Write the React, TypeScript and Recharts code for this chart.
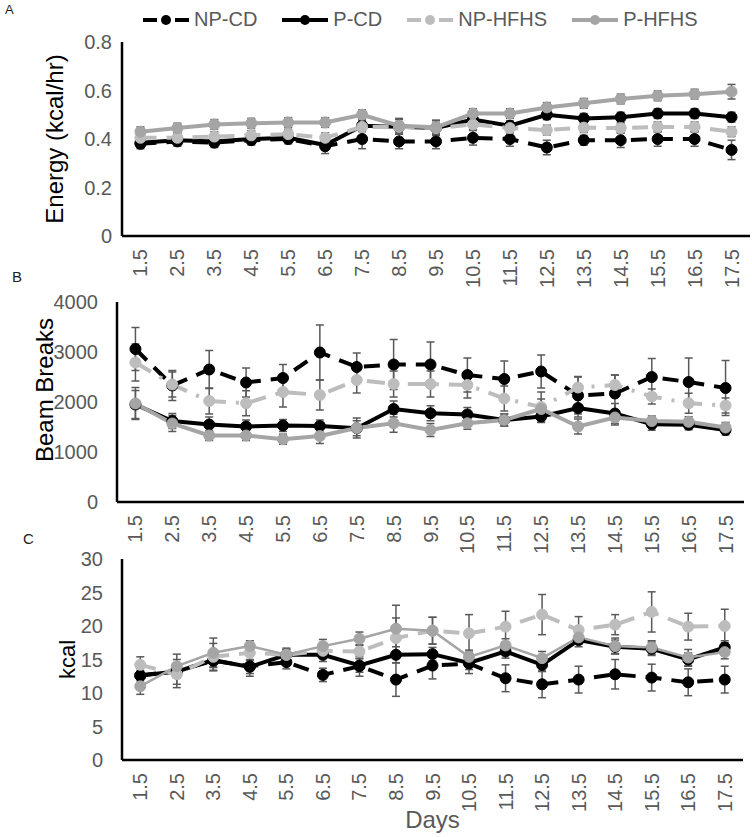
import React from 'react';
import { LineChart, Line, XAxis, YAxis, ErrorBar, Legend } from 'recharts';

const FONT = '"Liberation Sans", Arial, sans-serif';
const TICK_GRAY = '#595959';

const days = ['1.5', '2.5', '3.5', '4.5', '5.5', '6.5', '7.5', '8.5', '9.5', '10.5', '11.5', '12.5', '13.5', '14.5', '15.5', '16.5', '17.5'];

// A - energy expenditure (kcal/hr)
const energyNpCd = [0.38, 0.39, 0.385, 0.395, 0.4, 0.37, 0.4, 0.39, 0.39, 0.405, 0.4, 0.365, 0.395, 0.395, 0.4, 0.4, 0.355];
const energyPCd = [0.385, 0.395, 0.39, 0.4, 0.405, 0.375, 0.455, 0.45, 0.445, 0.48, 0.455, 0.5, 0.485, 0.49, 0.505, 0.505, 0.49];
const energyNpHfhs = [0.405, 0.405, 0.41, 0.415, 0.42, 0.405, 0.45, 0.45, 0.445, 0.46, 0.445, 0.437, 0.447, 0.445, 0.45, 0.45, 0.43];
const energyPHfhs = [0.43, 0.445, 0.46, 0.465, 0.468, 0.468, 0.5, 0.455, 0.448, 0.505, 0.505, 0.53, 0.547, 0.565, 0.578, 0.585, 0.595];
const energyNpCdErr = [0.02, 0.02, 0.02, 0.02, 0.02, 0.03, 0.04, 0.03, 0.03, 0.03, 0.03, 0.03, 0.02, 0.03, 0.03, 0.03, 0.04];
const energyPCdErr = [0.02, 0.02, 0.02, 0.02, 0.02, 0.02, 0.02, 0.03, 0.03, 0.02, 0.02, 0.02, 0.02, 0.02, 0.02, 0.02, 0.02];
const energyNpHfhsErr = [0.02, 0.02, 0.02, 0.02, 0.02, 0.02, 0.02, 0.02, 0.02, 0.02, 0.02, 0.02, 0.02, 0.02, 0.02, 0.02, 0.02];
const energyPHfhsErr = [0.02, 0.02, 0.02, 0.02, 0.02, 0.02, 0.02, 0.03, 0.03, 0.02, 0.02, 0.02, 0.02, 0.02, 0.02, 0.02, 0.03];
const energyTicks = [0, 0.2, 0.4, 0.6, 0.8];

// B - beam breaks
const beamNpCd = [3060, 2330, 2650, 2390, 2480, 2990, 2700, 2750, 2750, 2540, 2460, 2610, 2130, 2170, 2500, 2400, 2280];
const beamPCd = [1950, 1620, 1550, 1510, 1530, 1520, 1475, 1860, 1775, 1750, 1640, 1710, 1880, 1770, 1555, 1545, 1440];
const beamNpHfhs = [2790, 2350, 2020, 1975, 2200, 2140, 2440, 2360, 2360, 2340, 2070, 1900, 2290, 2340, 2110, 1975, 1930];
const beamPHfhs = [1970, 1570, 1330, 1330, 1255, 1320, 1480, 1575, 1440, 1575, 1640, 1860, 1510, 1690, 1620, 1605, 1490];
const beamNpCdErr = [430, 300, 380, 290, 270, 550, 280, 500, 450, 340, 360, 330, 370, 370, 370, 480, 550];
const beamPCdErr = [280, 150, 150, 130, 120, 120, 150, 160, 150, 140, 120, 120, 180, 200, 120, 100, 100];
const beamNpHfhsErr = [370, 250, 260, 250, 300, 300, 260, 260, 260, 260, 250, 300, 220, 200, 150, 200, 150];
const beamPHfhsErr = [320, 160, 100, 100, 100, 150, 200, 180, 130, 120, 120, 200, 150, 150, 100, 100, 100];
const beamTicks = [0, 1000, 2000, 3000, 4000];

// C - food intake (kcal)
const kcalNpCd = [12.6, 13.3, 14.8, 14.0, 14.6, 12.7, 14.0, 12.0, 14.1, 14.4, 12.2, 11.3, 12.0, 12.8, 12.3, 11.6, 12.0];
const kcalPCd = [12.6, 13.2, 14.9, 13.9, 15.7, 15.7, 14.1, 15.7, 15.8, 14.5, 16.2, 14.2, 17.9, 16.9, 16.6, 15.0, 16.8];
const kcalNpHfhs = [14.2, 12.8, 15.4, 16.0, 15.7, 16.3, 16.2, 18.2, 19.3, 18.9, 19.9, 21.7, 19.4, 20.2, 22.1, 19.9, 20.0];
const kcalPHfhs = [11.0, 14.0, 16.0, 17.0, 15.7, 17.0, 18.1, 19.6, 19.3, 15.4, 17.1, 15.2, 18.3, 17.0, 16.8, 15.3, 16.1];
const kcalNpCdErr = [1.5, 2.5, 1.5, 1.5, 1.0, 1.0, 1.5, 2.5, 2.0, 1.5, 2.0, 2.0, 2.0, 2.2, 2.0, 2.0, 2.0];
const kcalPCdErr = [0.8, 1.0, 1.0, 1.0, 0.8, 1.0, 1.0, 1.2, 1.0, 1.0, 1.0, 1.0, 1.0, 1.0, 1.0, 1.0, 1.0];
const kcalNpHfhsErr = [1.2, 1.5, 2.0, 1.0, 1.0, 1.0, 1.0, 3.0, 2.0, 2.8, 2.3, 3.0, 2.0, 1.5, 3.0, 2.0, 2.5];
const kcalPHfhsErr = [1.2, 1.0, 2.2, 0.8, 0.8, 1.0, 1.0, 3.5, 2.0, 1.0, 1.0, 1.0, 1.0, 1.2, 1.0, 1.2, 1.0];
const kcalTicks = [0, 5, 10, 15, 20, 25, 30];

const series = [
  { key: 'npcd', name: 'NP-CD', color: '#000000', dashed: true },
  { key: 'pcd', name: 'P-CD', color: '#000000', dashed: false },
  { key: 'nphfhs', name: 'NP-HFHS', color: '#bdbdbd', dashed: true },
  { key: 'phfhs', name: 'P-HFHS', color: '#a5a5a5', dashed: false },
];

function buildRows(vals: number[][], errs: number[][]) {
  return days.map((day, i) => {
    const row: any = { day };
    series.forEach((s, j) => {
      row[s.key] = vals[j][i];
      row[s.key + 'Err'] = errs[j][i];
    });
    return row;
  });
}

const rowsA = buildRows([energyNpCd, energyPCd, energyNpHfhs, energyPHfhs], [energyNpCdErr, energyPCdErr, energyNpHfhsErr, energyPHfhsErr]);
const rowsB = buildRows([beamNpCd, beamPCd, beamNpHfhs, beamPHfhs], [beamNpCdErr, beamPCdErr, beamNpHfhsErr, beamPHfhsErr]);
const rowsC = buildRows([kcalNpCd, kcalPCd, kcalNpHfhs, kcalPHfhs], [kcalNpCdErr, kcalPCdErr, kcalNpHfhsErr, kcalPHfhsErr]);

const XTick = (props: any) => {
  const { x, y, payload } = props;
  const ty = y + 11;
  return (
    <text x={x} y={ty} transform={`rotate(-90, ${x}, ${ty})`} textAnchor="end" dominantBaseline="central"
      fontSize={20} fill={TICK_GRAY} fontFamily={FONT}>
      {payload.value}
    </text>
  );
};

const yTitle = (text: string, cx: number, size: number, dy = 0) => (props: any) => {
  const vb = props.viewBox;
  const x = vb.x + cx;
  const y = vb.y + vb.height / 2 + dy;
  return (
    <text x={x} y={y} transform={`rotate(-90, ${x}, ${y})`} textAnchor="middle" dominantBaseline="central"
      fontSize={size} fill="#000" fontFamily={FONT}>
      {text}
    </text>
  );
};

const LegendBox = () => (
  <div style={{ display: 'flex', gap: 25, alignItems: 'center', fontFamily: FONT, fontSize: 20, color: TICK_GRAY }}>
    {series.map((s) => (
      <div key={s.key} style={{ display: 'flex', alignItems: 'center', gap: 5 }}>
        <svg width={46} height={14}>
          <line x1={0} y1={7} x2={46} y2={7} stroke={s.color} strokeWidth={4} strokeDasharray={s.dashed ? '14 9 0 9 14' : undefined} />
          <circle cx={23} cy={7} r={5} fill={s.color} />
        </svg>
        <span>{s.name}</span>
      </div>
    ))}
  </div>
);

function renderLines(dashB = false, thinPHfhs = false) {
  return series.map((s) => {
    let dash: string | undefined = s.dashed ? '16 10' : undefined;
    if (dashB && s.key === 'nphfhs') dash = '18 10 3 10';
    const width = thinPHfhs && s.key === 'phfhs' ? 2.5 : 4;
    return (
      <Line key={s.key} type="linear" dataKey={s.key} name={s.name} stroke={s.color} strokeWidth={width}
        strokeDasharray={dash} dot={{ r: 5.5, fill: s.color, stroke: s.color, strokeWidth: 1, strokeDasharray: '' }}
        activeDot={false} isAnimationActive={false}>
        <ErrorBar dataKey={s.key + 'Err'} direction="y" width={4} stroke={TICK_GRAY} strokeWidth={1.5} isAnimationActive={false} />
      </Line>
    );
  });
}

const axisLine = { stroke: '#000', strokeWidth: 2.5 };
const yTick = { fontSize: 20, fill: TICK_GRAY, fontFamily: FONT };
const bandPad = (w: number) => ({ left: w / 34, right: w / 34 });

export default function App() {
  return (
    <div style={{ position: 'absolute', left: 0, top: 0, width: 752, height: 837, background: '#fff', fontFamily: FONT }}>
      <div style={{ position: 'absolute', left: 5, top: 2, fontSize: 13, color: '#222' }}>A</div>
      <div style={{ position: 'absolute', left: 12, top: 268, fontSize: 15, color: '#222' }}>B</div>
      <div style={{ position: 'absolute', left: 23, top: 530, fontSize: 15, color: '#222' }}>C</div>

      <div style={{ position: 'absolute', left: 0, top: 0 }}>
        <LineChart width={752} height={300} data={rowsA} margin={{ top: 42, right: 2, bottom: 0, left: 0 }}>
          <XAxis dataKey="day" height={64} axisLine={axisLine} tickLine={false} tickSize={0} tick={<XTick />}
            interval={0} padding={bandPad(628)} />
          <YAxis width={122} domain={[0, 0.8]} ticks={energyTicks} axisLine={axisLine} tickLine={false} tickSize={0}
            tickMargin={10} tick={yTick} tickFormatter={(v: number) => (v === 0 ? '0' : v.toFixed(1))}
            label={yTitle('Energy (kcal/hr)', 54, 24)} />
          <Legend layout="horizontal" verticalAlign="middle" align="center" content={<LegendBox />}
            wrapperStyle={{ top: 8, left: 143, width: 600, height: 26 }} />
          {renderLines()}
        </LineChart>
      </div>

      <div style={{ position: 'absolute', left: 0, top: 262 }}>
        <LineChart width={752} height={298} data={rowsB} margin={{ top: 40, right: 8, bottom: 0, left: 0 }}>
          <XAxis dataKey="day" height={58} axisLine={axisLine} tickLine={false} tickSize={0} tick={<XTick />}
            interval={0} padding={bandPad(627)} />
          <YAxis width={117} domain={[0, 4000]} ticks={beamTicks} axisLine={axisLine} tickLine={false} tickSize={0}
            tickMargin={19} tick={yTick} label={yTitle('Beam Breaks', 44, 24, -12)} />
          {renderLines(true)}
        </LineChart>
      </div>

      <div style={{ position: 'absolute', left: 0, top: 530 }}>
        <LineChart width={752} height={307} data={rowsC} margin={{ top: 29, right: 9, bottom: 0, left: 0 }}>
          <XAxis dataKey="day" height={77} axisLine={axisLine} tickLine={false} tickSize={0} tick={<XTick />}
            interval={0} padding={bandPad(621)}
            label={(p: any) => (
              <text x={p.viewBox.x + p.viewBox.width / 2} y={p.viewBox.y + 68} textAnchor="middle"
                fontSize={24} fill={TICK_GRAY} fontFamily={FONT}>Days</text>
            )} />
          <YAxis width={122} domain={[0, 30]} ticks={kcalTicks} axisLine={axisLine} tickLine={false} tickSize={0}
            tickMargin={19} tick={yTick} label={yTitle('kcal', 67, 22)} />
          {renderLines(false, true)}
        </LineChart>
      </div>
    </div>
  );
}
